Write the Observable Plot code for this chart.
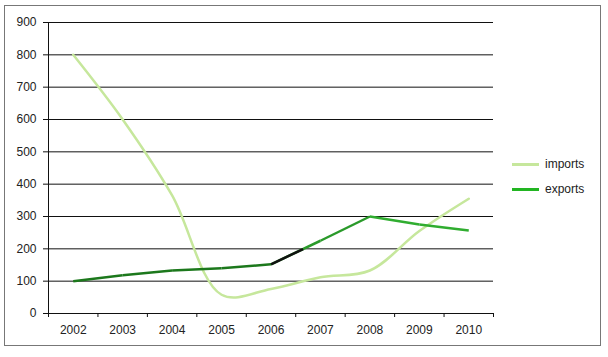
<!DOCTYPE html>
<html><head><meta charset="utf-8">
<script src="https://cdn.jsdelivr.net/npm/d3@7"></script>
<script src="https://cdn.jsdelivr.net/npm/@observablehq/plot@0.6"></script>
<style>
body{margin:0;background:#fff;font-family:"Liberation Sans",Arial,sans-serif;}
#wrap{position:relative;width:608px;height:357px;overflow:hidden;}
#frame{position:absolute;left:4px;top:5px;width:597px;height:341px;border:1.5px solid #777;box-sizing:border-box;pointer-events:none;}
.leg{position:absolute;font-size:12px;color:#222;line-height:14px;}
.sw{position:absolute;height:3px;width:27px;}
svg{position:absolute;left:0;top:0;}
</style></head><body><div id="wrap"><div id="frame"></div></div>
<script>
const years = [2002, 2003, 2004, 2005, 2006, 2007, 2008, 2009, 2010];
const imports = [800, 600, 365, 58, 76, 112, 133, 255, 355];
const exports = [100, 118, 133, 140, 152, 225, 300, 275, 257];
const yTicks = [0, 100, 200, 300, 400, 500, 600, 700, 800, 900];
const seriesNames = ["imports", "exports"];

const importColor = "#c6e79c";
const exportColor = "#22b522";
const segColors = ["#1c781c", "#1c781c", "#1c781c", "#1c781c", "#2a9a2a", "#2a9a2a", "#30ad30", "#30ad30"];
const blackFrac = 0.65; // share of the 2006-2007 segment drawn black in the original

const data = years.map((y, i) => ({year: y, imports: imports[i], exports: exports[i]}));
const segs = d3.pairs(data).map(([a, b], i) => ({x1: a.year, y1: a.exports, x2: b.year, y2: b.exports, c: segColors[i]}));
const s = segs[4];
const blackSeg = [{x1: s.x1, y1: s.y1, x2: s.x1 + (s.x2 - s.x1) * blackFrac, y2: s.y1 + (s.y2 - s.y1) * blackFrac}];

const chart = Plot.plot({
  width: 608, height: 357,
  marginLeft: 48, marginRight: 115, marginTop: 22, marginBottom: 44,
  x: {domain: [2001.5, 2010.5]},
  y: {domain: [0, 900]},
  color: {type: "identity"},
  style: {fontSize: "12px", fontFamily: "'Liberation Sans', Arial, sans-serif", color: "#222", background: "transparent"},
  marks: [
    Plot.ruleY(yTicks, {stroke: "#111", strokeWidth: 1}),
    Plot.axisY({ticks: yTicks, tickSize: 5, tickPadding: 7, label: null, stroke: "#111"}),
    Plot.axisX({ticks: years.map(y => y - 0.5).concat([years[years.length - 1] + 0.5]), tickSize: 4, tickFormat: () => "", label: null, stroke: "#111"}),
    Plot.axisX({ticks: years, tickSize: 0, tickPadding: 12, tickFormat: d => String(d), label: null}),
    Plot.ruleX([2001.5], {stroke: "#111"}),
    Plot.line(data, {x: "year", y: "imports", curve: "catmull-rom", stroke: importColor, strokeWidth: 2.5}),
    Plot.link(segs, {x1: "x1", y1: "y1", x2: "x2", y2: "y2", stroke: "c", strokeWidth: 2.5}),
    Plot.link(blackSeg, {x1: "x1", y1: "y1", x2: "x2", y2: "y2", stroke: "#111", strokeWidth: 2.5})
  ]
});
const wrap = document.getElementById("wrap");
wrap.insertBefore(chart, wrap.firstChild);

const legColors = [importColor, exportColor];
seriesNames.forEach((n, i) => {
  const top = 164 + i * 25;
  const sw = document.createElement("div");
  sw.className = "sw";
  sw.style.left = "512px"; sw.style.top = (top - 1) + "px"; sw.style.background = legColors[i];
  wrap.appendChild(sw);
  const t = document.createElement("div");
  t.className = "leg";
  t.style.left = "545px"; t.style.top = (top - 7) + "px";
  t.textContent = n;
  wrap.appendChild(t);
});
</script>
</body></html>
